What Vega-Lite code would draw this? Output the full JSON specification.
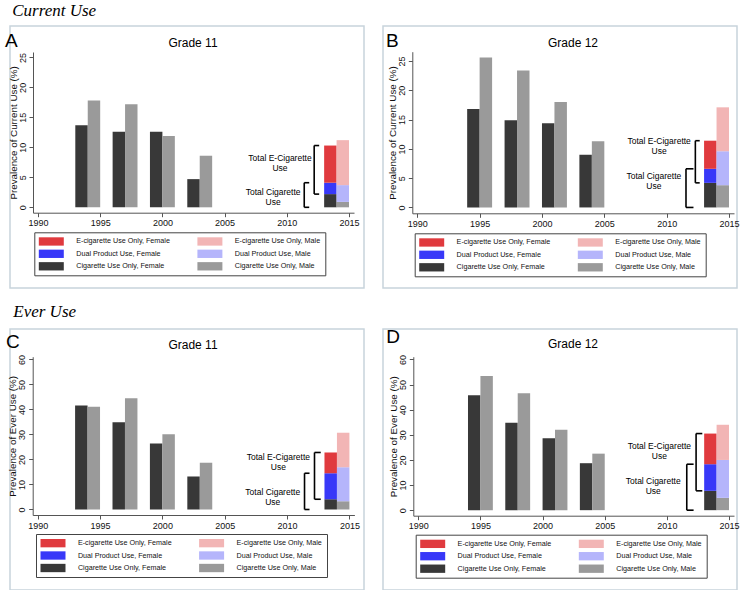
{
  "$schema": "https://vega.github.io/schema/vega-lite/v6.json",
  "background": "white",
  "padding": {"left": 4, "top": 2, "right": 0, "bottom": 0},
  "datasets": {
    "bars": [
      {"panel": "A", "cat": "Cigarette Use Only, Female", "start": 1993, "end": 1994, "lo": 0, "hi": 13.7},
      {"panel": "A", "cat": "Cigarette Use Only, Male", "start": 1994, "end": 1995, "lo": 0, "hi": 17.8},
      {"panel": "A", "cat": "Cigarette Use Only, Female", "start": 1996, "end": 1997, "lo": 0, "hi": 12.6},
      {"panel": "A", "cat": "Cigarette Use Only, Male", "start": 1997, "end": 1998, "lo": 0, "hi": 17.2},
      {"panel": "A", "cat": "Cigarette Use Only, Female", "start": 1999, "end": 2000, "lo": 0, "hi": 12.6},
      {"panel": "A", "cat": "Cigarette Use Only, Male", "start": 2000, "end": 2001, "lo": 0, "hi": 11.9},
      {"panel": "A", "cat": "Cigarette Use Only, Female", "start": 2002, "end": 2003, "lo": 0, "hi": 4.7},
      {"panel": "A", "cat": "Cigarette Use Only, Male", "start": 2003, "end": 2004, "lo": 0, "hi": 8.6},
      {"panel": "A", "cat": "Cigarette Use Only, Female", "start": 2013, "end": 2014, "lo": 0, "hi": 2.2},
      {"panel": "A", "cat": "Dual Product Use, Female", "start": 2013, "end": 2014, "lo": 2.2, "hi": 4.1},
      {"panel": "A", "cat": "E-cigarette Use Only, Female", "start": 2013, "end": 2014, "lo": 4.1, "hi": 10.3},
      {"panel": "A", "cat": "Cigarette Use Only, Male", "start": 2014, "end": 2015, "lo": 0, "hi": 0.9},
      {"panel": "A", "cat": "Dual Product Use, Male", "start": 2014, "end": 2015, "lo": 0.9, "hi": 3.7},
      {"panel": "A", "cat": "E-cigarette Use Only, Male", "start": 2014, "end": 2015, "lo": 3.7, "hi": 11.2},

      {"panel": "B", "cat": "Cigarette Use Only, Female", "start": 1994, "end": 1995, "lo": 0, "hi": 16.8},
      {"panel": "B", "cat": "Cigarette Use Only, Male", "start": 1995, "end": 1996, "lo": 0, "hi": 25.6},
      {"panel": "B", "cat": "Cigarette Use Only, Female", "start": 1997, "end": 1998, "lo": 0, "hi": 14.9},
      {"panel": "B", "cat": "Cigarette Use Only, Male", "start": 1998, "end": 1999, "lo": 0, "hi": 23.4},
      {"panel": "B", "cat": "Cigarette Use Only, Female", "start": 2000, "end": 2001, "lo": 0, "hi": 14.4},
      {"panel": "B", "cat": "Cigarette Use Only, Male", "start": 2001, "end": 2002, "lo": 0, "hi": 18.0},
      {"panel": "B", "cat": "Cigarette Use Only, Female", "start": 2003, "end": 2004, "lo": 0, "hi": 9.0},
      {"panel": "B", "cat": "Cigarette Use Only, Male", "start": 2004, "end": 2005, "lo": 0, "hi": 11.3},
      {"panel": "B", "cat": "Cigarette Use Only, Female", "start": 2013, "end": 2014, "lo": 0, "hi": 4.2},
      {"panel": "B", "cat": "Dual Product Use, Female", "start": 2013, "end": 2014, "lo": 4.2, "hi": 6.6},
      {"panel": "B", "cat": "E-cigarette Use Only, Female", "start": 2013, "end": 2014, "lo": 6.6, "hi": 11.4},
      {"panel": "B", "cat": "Cigarette Use Only, Male", "start": 2014, "end": 2015, "lo": 0, "hi": 3.8},
      {"panel": "B", "cat": "Dual Product Use, Male", "start": 2014, "end": 2015, "lo": 3.8, "hi": 9.6},
      {"panel": "B", "cat": "E-cigarette Use Only, Male", "start": 2014, "end": 2015, "lo": 9.6, "hi": 17.1},

      {"panel": "C", "cat": "Cigarette Use Only, Female", "start": 1993, "end": 1994, "lo": 0, "hi": 41.6},
      {"panel": "C", "cat": "Cigarette Use Only, Male", "start": 1994, "end": 1995, "lo": 0, "hi": 41.1},
      {"panel": "C", "cat": "Cigarette Use Only, Female", "start": 1996, "end": 1997, "lo": 0, "hi": 34.9},
      {"panel": "C", "cat": "Cigarette Use Only, Male", "start": 1997, "end": 1998, "lo": 0, "hi": 44.5},
      {"panel": "C", "cat": "Cigarette Use Only, Female", "start": 1999, "end": 2000, "lo": 0, "hi": 26.4},
      {"panel": "C", "cat": "Cigarette Use Only, Male", "start": 2000, "end": 2001, "lo": 0, "hi": 30.1},
      {"panel": "C", "cat": "Cigarette Use Only, Female", "start": 2002, "end": 2003, "lo": 0, "hi": 13.2},
      {"panel": "C", "cat": "Cigarette Use Only, Male", "start": 2003, "end": 2004, "lo": 0, "hi": 18.7},
      {"panel": "C", "cat": "Cigarette Use Only, Female", "start": 2013, "end": 2014, "lo": 0, "hi": 4.1},
      {"panel": "C", "cat": "Dual Product Use, Female", "start": 2013, "end": 2014, "lo": 4.1, "hi": 14.5},
      {"panel": "C", "cat": "E-cigarette Use Only, Female", "start": 2013, "end": 2014, "lo": 14.5, "hi": 22.8},
      {"panel": "C", "cat": "Cigarette Use Only, Male", "start": 2014, "end": 2015, "lo": 0, "hi": 3.3},
      {"panel": "C", "cat": "Dual Product Use, Male", "start": 2014, "end": 2015, "lo": 3.3, "hi": 16.9},
      {"panel": "C", "cat": "E-cigarette Use Only, Male", "start": 2014, "end": 2015, "lo": 16.9, "hi": 30.7},

      {"panel": "D", "cat": "Cigarette Use Only, Female", "start": 1994, "end": 1995, "lo": 0, "hi": 45.8},
      {"panel": "D", "cat": "Cigarette Use Only, Male", "start": 1995, "end": 1996, "lo": 0, "hi": 53.4},
      {"panel": "D", "cat": "Cigarette Use Only, Female", "start": 1997, "end": 1998, "lo": 0, "hi": 34.8},
      {"panel": "D", "cat": "Cigarette Use Only, Male", "start": 1998, "end": 1999, "lo": 0, "hi": 46.5},
      {"panel": "D", "cat": "Cigarette Use Only, Female", "start": 2000, "end": 2001, "lo": 0, "hi": 28.6},
      {"panel": "D", "cat": "Cigarette Use Only, Male", "start": 2001, "end": 2002, "lo": 0, "hi": 32.0},
      {"panel": "D", "cat": "Cigarette Use Only, Female", "start": 2003, "end": 2004, "lo": 0, "hi": 18.7},
      {"panel": "D", "cat": "Cigarette Use Only, Male", "start": 2004, "end": 2005, "lo": 0, "hi": 22.5},
      {"panel": "D", "cat": "Cigarette Use Only, Female", "start": 2013, "end": 2014, "lo": 0, "hi": 7.7},
      {"panel": "D", "cat": "Dual Product Use, Female", "start": 2013, "end": 2014, "lo": 7.7, "hi": 18.3},
      {"panel": "D", "cat": "E-cigarette Use Only, Female", "start": 2013, "end": 2014, "lo": 18.3, "hi": 30.5},
      {"panel": "D", "cat": "Cigarette Use Only, Male", "start": 2014, "end": 2015, "lo": 0, "hi": 4.9},
      {"panel": "D", "cat": "Dual Product Use, Male", "start": 2014, "end": 2015, "lo": 4.9, "hi": 20.0},
      {"panel": "D", "cat": "E-cigarette Use Only, Male", "start": 2014, "end": 2015, "lo": 20.0, "hi": 34.0}
    ],
    "brackets": [
      {"panel": "A", "kind": "ecig", "bx": 2012.2, "bxe": 2012.6, "lo": 2.2, "hi": 10.3, "lx": 2009.45, "ly": 8.2, "label": "Total E-Cigarette\nUse"},
      {"panel": "A", "kind": "cig", "bx": 2011.4, "bxe": 2011.8, "lo": 0, "hi": 4.1, "lx": 2008.9, "ly": 2.5, "label": "Total Cigarette\nUse"},
      {"panel": "B", "kind": "ecig", "bx": 2012.3, "bxe": 2012.65, "lo": 4.2, "hi": 11.4, "lx": 2009.4, "ly": 11.3, "label": "Total E-Cigarette\nUse"},
      {"panel": "B", "kind": "cig", "bx": 2011.55, "bxe": 2012.15, "lo": 0, "hi": 6.6, "lx": 2008.97, "ly": 5.35, "label": "Total Cigarette\nUse"},
      {"panel": "C", "kind": "ecig", "bx": 2012.2, "bxe": 2012.7, "lo": 4.1, "hi": 22.8, "lx": 2009.3, "ly": 20.8, "label": "Total E-Cigarette\nUse"},
      {"panel": "C", "kind": "cig", "bx": 2011.4, "bxe": 2011.8, "lo": 0, "hi": 14.5, "lx": 2008.85, "ly": 6.8, "label": "Total Cigarette\nUse"},
      {"panel": "D", "kind": "ecig", "bx": 2012.35, "bxe": 2012.85, "lo": 7.7, "hi": 30.5, "lx": 2009.4, "ly": 25.6, "label": "Total E-Cigarette\nUse"},
      {"panel": "D", "kind": "cig", "bx": 2011.6, "bxe": 2012.15, "lo": 0, "hi": 18.3, "lx": 2008.9, "ly": 11.7, "label": "Total Cigarette\nUse"}
    ],
    "letters": [
      {"panel": "A", "letter": "A", "x": 1987.35, "y": 26.7},
      {"panel": "B", "letter": "B", "x": 1987.49, "y": 27.4},
      {"panel": "C", "letter": "C", "x": 1987.46, "y": 64.4},
      {"panel": "D", "letter": "D", "x": 1987.43, "y": 66.4}
    ]
  },
  "vconcat": [
    {
      "title": {"text": "Current Use", "anchor": "start", "font": "Liberation Serif", "fontStyle": "italic", "fontSize": 17, "fontWeight": "normal", "offset": 5, "dx": 8, "color": "#000"},
      "spacing": 17,
      "resolve": {"scale": {"color": "independent"}},
      "hconcat": [
        {
          "width": 354, "height": 262,
          "title": {"text": "Grade 11", "anchor": "middle", "frame": "group", "offset": -24, "dx": 6, "fontSize": 12, "fontWeight": "normal", "color": "#000"},
          "layer": [
            {
              "data": {"name": "bars"}, "transform": [{"filter": "datum.panel == 'A'"}],
              "mark": {"type": "rect"},
              "encoding": {
                "x": {"field": "start", "type": "quantitative", "scale": {"domain": [1989.6, 2015.4], "range": [23, 344], "nice": false, "zero": false}, "axis": {"values": [1990, 1995, 2000, 2005, 2010, 2015], "format": "d", "offset": -75.3, "title": null}},
                "x2": {"field": "end"},
                "y": {"field": "lo", "type": "quantitative", "scale": {"domain": [-0.9, 25.9], "range": [186.7, 26], "nice": false, "zero": false}, "axis": {"values": [0, 5, 10, 15, 20, 25], "offset": -23, "title": "Prevalence of Current Use (%)"}},
                "y2": {"field": "hi"},
                "color": {"field": "cat", "type": "nominal",
                  "scale": {"domain": ["E-cigarette Use Only, Female", "Dual Product Use, Female", "Cigarette Use Only, Female", "E-cigarette Use Only, Male", "Dual Product Use, Male", "Cigarette Use Only, Male"], "range": ["#e03a3e", "#3838f8", "#383838", "#f2b5b5", "#b5b5fb", "#9a9a9a"]},
                  "legend": {"legendX": 24.3, "legendY": 206.3}}
              }
            },
            {
              "data": {"name": "brackets"}, "transform": [{"filter": "datum.panel == 'A'"}],
              "mark": {"type": "rule", "color": "#000", "strokeWidth": 1.6},
              "encoding": {"x": {"field": "bx", "type": "quantitative"}, "y": {"field": "lo", "type": "quantitative"}, "y2": {"field": "hi"}}
            },
            {
              "data": {"name": "brackets"}, "transform": [{"filter": "datum.panel == 'A'"}],
              "mark": {"type": "rule", "color": "#000", "strokeWidth": 1.6},
              "encoding": {"x": {"field": "bx", "type": "quantitative"}, "x2": {"field": "bxe"}, "y": {"field": "hi", "type": "quantitative"}}
            },
            {
              "data": {"name": "brackets"}, "transform": [{"filter": "datum.panel == 'A'"}],
              "mark": {"type": "rule", "color": "#000", "strokeWidth": 1.6},
              "encoding": {"x": {"field": "bx", "type": "quantitative"}, "x2": {"field": "bxe"}, "y": {"field": "lo", "type": "quantitative"}}
            },
            {
              "data": {"name": "brackets"}, "transform": [{"filter": "datum.panel == 'A'"}],
              "mark": {"type": "text", "align": "center", "baseline": "middle", "fontSize": 8.5, "lineBreak": "\n", "lineHeight": 10, "color": "#000"},
              "encoding": {"x": {"field": "lx", "type": "quantitative"}, "y": {"field": "ly", "type": "quantitative"}, "text": {"field": "label"}}
            },
            {
              "data": {"name": "letters"}, "transform": [{"filter": "datum.panel == 'A'"}],
              "mark": {"type": "text", "align": "left", "baseline": "alphabetic", "fontSize": 19, "color": "#000"},
              "encoding": {"x": {"field": "x", "type": "quantitative"}, "y": {"field": "y", "type": "quantitative"}, "text": {"field": "letter"}}
            }
          ]
        },
        {
          "width": 354, "height": 262,
          "title": {"text": "Grade 12", "anchor": "middle", "frame": "group", "offset": -24, "dx": 13, "fontSize": 12, "fontWeight": "normal", "color": "#000"},
          "layer": [
            {
              "data": {"name": "bars"}, "transform": [{"filter": "datum.panel == 'B'"}],
              "mark": {"type": "rect"},
              "encoding": {
                "x": {"field": "start", "type": "quantitative", "scale": {"domain": [1989.6, 2015.4], "range": [29.3, 351], "nice": false, "zero": false}, "axis": {"values": [1990, 1995, 2000, 2005, 2010, 2015], "format": "d", "offset": -74.7, "title": null}},
                "x2": {"field": "end"},
                "y": {"field": "lo", "type": "quantitative", "scale": {"domain": [-1.0, 26.6], "range": [187.3, 25.7], "nice": false, "zero": false}, "axis": {"values": [0, 5, 10, 15, 20, 25], "offset": -29.3, "title": "Prevalence of Current Use (%)"}},
                "y2": {"field": "hi"},
                "color": {"field": "cat", "type": "nominal",
                  "scale": {"domain": ["E-cigarette Use Only, Female", "Dual Product Use, Female", "Cigarette Use Only, Female", "E-cigarette Use Only, Male", "Dual Product Use, Male", "Cigarette Use Only, Male"], "range": ["#e03a3e", "#3838f8", "#383838", "#f2b5b5", "#b5b5fb", "#9a9a9a"]},
                  "legend": {"legendX": 31.7, "legendY": 207.3}}
              }
            },
            {
              "data": {"name": "brackets"}, "transform": [{"filter": "datum.panel == 'B'"}],
              "mark": {"type": "rule", "color": "#000", "strokeWidth": 1.6},
              "encoding": {"x": {"field": "bx", "type": "quantitative"}, "y": {"field": "lo", "type": "quantitative"}, "y2": {"field": "hi"}}
            },
            {
              "data": {"name": "brackets"}, "transform": [{"filter": "datum.panel == 'B'"}],
              "mark": {"type": "rule", "color": "#000", "strokeWidth": 1.6},
              "encoding": {"x": {"field": "bx", "type": "quantitative"}, "x2": {"field": "bxe"}, "y": {"field": "hi", "type": "quantitative"}}
            },
            {
              "data": {"name": "brackets"}, "transform": [{"filter": "datum.panel == 'B'"}],
              "mark": {"type": "rule", "color": "#000", "strokeWidth": 1.6},
              "encoding": {"x": {"field": "bx", "type": "quantitative"}, "x2": {"field": "bxe"}, "y": {"field": "lo", "type": "quantitative"}}
            },
            {
              "data": {"name": "brackets"}, "transform": [{"filter": "datum.panel == 'B'"}],
              "mark": {"type": "text", "align": "center", "baseline": "middle", "fontSize": 8.5, "lineBreak": "\n", "lineHeight": 10, "color": "#000"},
              "encoding": {"x": {"field": "lx", "type": "quantitative"}, "y": {"field": "ly", "type": "quantitative"}, "text": {"field": "label"}}
            },
            {
              "data": {"name": "letters"}, "transform": [{"filter": "datum.panel == 'B'"}],
              "mark": {"type": "text", "align": "left", "baseline": "alphabetic", "fontSize": 19, "color": "#000"},
              "encoding": {"x": {"field": "x", "type": "quantitative"}, "y": {"field": "y", "type": "quantitative"}, "text": {"field": "letter"}}
            }
          ]
        }
      ]
    },
    {
      "title": {"text": "Ever Use", "anchor": "start", "font": "Liberation Serif", "fontStyle": "italic", "fontSize": 17, "fontWeight": "normal", "offset": 7, "dx": 8, "color": "#000"},
      "spacing": 17,
      "resolve": {"scale": {"color": "independent"}},
      "hconcat": [
        {
          "width": 354, "height": 261,
          "title": {"text": "Grade 11", "anchor": "middle", "frame": "group", "offset": -23, "dx": 6, "fontSize": 12, "fontWeight": "normal", "color": "#000"},
          "layer": [
            {
              "data": {"name": "bars"}, "transform": [{"filter": "datum.panel == 'C'"}],
              "mark": {"type": "rect"},
              "encoding": {
                "x": {"field": "start", "type": "quantitative", "scale": {"domain": [1989.6, 2015.4], "range": [22.7, 344.4], "nice": false, "zero": false}, "axis": {"values": [1990, 1995, 2000, 2005, 2010, 2015], "format": "d", "offset": -75, "title": null}},
                "x2": {"field": "end"},
                "y": {"field": "lo", "type": "quantitative", "scale": {"domain": [-2.2, 61.1], "range": [186, 27.7], "nice": false, "zero": false}, "axis": {"values": [0, 10, 20, 30, 40, 50, 60], "offset": -22.7, "title": "Prevalence of Ever Use (%)"}},
                "y2": {"field": "hi"},
                "color": {"field": "cat", "type": "nominal",
                  "scale": {"domain": ["E-cigarette Use Only, Female", "Dual Product Use, Female", "Cigarette Use Only, Female", "E-cigarette Use Only, Male", "Dual Product Use, Male", "Cigarette Use Only, Male"], "range": ["#e03a3e", "#3838f8", "#383838", "#f2b5b5", "#b5b5fb", "#9a9a9a"]},
                  "legend": {"legendX": 26, "legendY": 205}}
              }
            },
            {
              "data": {"name": "brackets"}, "transform": [{"filter": "datum.panel == 'C'"}],
              "mark": {"type": "rule", "color": "#000", "strokeWidth": 1.6},
              "encoding": {"x": {"field": "bx", "type": "quantitative"}, "y": {"field": "lo", "type": "quantitative"}, "y2": {"field": "hi"}}
            },
            {
              "data": {"name": "brackets"}, "transform": [{"filter": "datum.panel == 'C'"}],
              "mark": {"type": "rule", "color": "#000", "strokeWidth": 1.6},
              "encoding": {"x": {"field": "bx", "type": "quantitative"}, "x2": {"field": "bxe"}, "y": {"field": "hi", "type": "quantitative"}}
            },
            {
              "data": {"name": "brackets"}, "transform": [{"filter": "datum.panel == 'C'"}],
              "mark": {"type": "rule", "color": "#000", "strokeWidth": 1.6},
              "encoding": {"x": {"field": "bx", "type": "quantitative"}, "x2": {"field": "bxe"}, "y": {"field": "lo", "type": "quantitative"}}
            },
            {
              "data": {"name": "brackets"}, "transform": [{"filter": "datum.panel == 'C'"}],
              "mark": {"type": "text", "align": "center", "baseline": "middle", "fontSize": 8.5, "lineBreak": "\n", "lineHeight": 10, "color": "#000"},
              "encoding": {"x": {"field": "lx", "type": "quantitative"}, "y": {"field": "ly", "type": "quantitative"}, "text": {"field": "label"}}
            },
            {
              "data": {"name": "letters"}, "transform": [{"filter": "datum.panel == 'C'"}],
              "mark": {"type": "text", "align": "left", "baseline": "alphabetic", "fontSize": 19, "color": "#000"},
              "encoding": {"x": {"field": "x", "type": "quantitative"}, "y": {"field": "y", "type": "quantitative"}, "text": {"field": "letter"}}
            }
          ]
        },
        {
          "width": 354, "height": 261,
          "title": {"text": "Grade 12", "anchor": "middle", "frame": "group", "offset": -23, "dx": 13, "fontSize": 12, "fontWeight": "normal", "color": "#000"},
          "layer": [
            {
              "data": {"name": "bars"}, "transform": [{"filter": "datum.panel == 'D'"}],
              "mark": {"type": "rect"},
              "encoding": {
                "x": {"field": "start", "type": "quantitative", "scale": {"domain": [1989.6, 2015.4], "range": [30.3, 351], "nice": false, "zero": false}, "axis": {"values": [1990, 1995, 2000, 2005, 2010, 2015], "format": "d", "offset": -74.3, "title": null}},
                "x2": {"field": "end"},
                "y": {"field": "lo", "type": "quantitative", "scale": {"domain": [-2.2, 61.1], "range": [186.7, 27.7], "nice": false, "zero": false}, "axis": {"values": [0, 10, 20, 30, 40, 50, 60], "offset": -30.3, "title": "Prevalence of Ever Use (%)"}},
                "y2": {"field": "hi"},
                "color": {"field": "cat", "type": "nominal",
                  "scale": {"domain": ["E-cigarette Use Only, Female", "Dual Product Use, Female", "Cigarette Use Only, Female", "E-cigarette Use Only, Male", "Dual Product Use, Male", "Cigarette Use Only, Male"], "range": ["#e03a3e", "#3838f8", "#383838", "#f2b5b5", "#b5b5fb", "#9a9a9a"]},
                  "legend": {"legendX": 32.7, "legendY": 205.7}}
              }
            },
            {
              "data": {"name": "brackets"}, "transform": [{"filter": "datum.panel == 'D'"}],
              "mark": {"type": "rule", "color": "#000", "strokeWidth": 1.6},
              "encoding": {"x": {"field": "bx", "type": "quantitative"}, "y": {"field": "lo", "type": "quantitative"}, "y2": {"field": "hi"}}
            },
            {
              "data": {"name": "brackets"}, "transform": [{"filter": "datum.panel == 'D'"}],
              "mark": {"type": "rule", "color": "#000", "strokeWidth": 1.6},
              "encoding": {"x": {"field": "bx", "type": "quantitative"}, "x2": {"field": "bxe"}, "y": {"field": "hi", "type": "quantitative"}}
            },
            {
              "data": {"name": "brackets"}, "transform": [{"filter": "datum.panel == 'D'"}],
              "mark": {"type": "rule", "color": "#000", "strokeWidth": 1.6},
              "encoding": {"x": {"field": "bx", "type": "quantitative"}, "x2": {"field": "bxe"}, "y": {"field": "lo", "type": "quantitative"}}
            },
            {
              "data": {"name": "brackets"}, "transform": [{"filter": "datum.panel == 'D'"}],
              "mark": {"type": "text", "align": "center", "baseline": "middle", "fontSize": 8.5, "lineBreak": "\n", "lineHeight": 10, "color": "#000"},
              "encoding": {"x": {"field": "lx", "type": "quantitative"}, "y": {"field": "ly", "type": "quantitative"}, "text": {"field": "label"}}
            },
            {
              "data": {"name": "letters"}, "transform": [{"filter": "datum.panel == 'D'"}],
              "mark": {"type": "text", "align": "left", "baseline": "alphabetic", "fontSize": 19, "color": "#000"},
              "encoding": {"x": {"field": "x", "type": "quantitative"}, "y": {"field": "y", "type": "quantitative"}, "text": {"field": "letter"}}
            }
          ]
        }
      ]
    }
  ],
  "spacing": 13,
  "resolve": {"scale": {"color": "independent"}},
  "config": {
    "font": "Liberation Sans",
    "view": {"stroke": "#c8d4dc", "strokeWidth": 1.5},
    "title": {"font": "Liberation Sans"},
    "text": {"font": "Liberation Sans"},
    "axis": {"labelFont": "Liberation Sans", "labelFontSize": 9, "labelColor": "#111", "titleFont": "Liberation Sans", "titleFontSize": 9.8, "titleFontWeight": "normal", "titleColor": "#111", "domainColor": "#555", "tickColor": "#555", "tickSize": 4, "labelPadding": 2, "grid": false},
    "axisY": {"labelAngle": 270, "titlePadding": 0},
    "legend": {"orient": "none", "columns": 2, "title": null, "symbolType": "M-3,-1H3V1H-3Z", "symbolSize": 69.4, "symbolStrokeWidth": 0, "symbolOpacity": 1, "symbolOffset": 8, "labelOffset": 20.4, "labelFont": "Liberation Sans", "labelFontSize": 7.2, "labelColor": "#111", "strokeColor": "#444", "padding": 4.5, "rowPadding": 3.5, "columnPadding": 26.6, "gridAlign": "all"}
  }
}
